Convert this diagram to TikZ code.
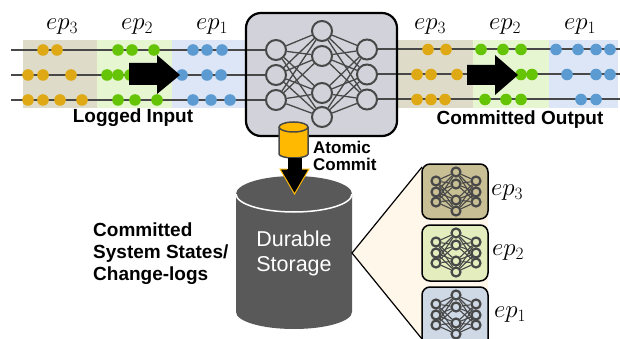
\documentclass[tikz,border=0pt]{standalone}
\usepackage{fontspec}
\usepackage{amsmath}
\setsansfont{Liberation Sans}
\definecolor{bandthree}{HTML}{DEDBC8}
\definecolor{bandtwo}{HTML}{E6F6D0}
\definecolor{bandone}{HTML}{DCE6F6}
\definecolor{dotthree}{HTML}{DFA916}
\definecolor{dottwo}{HTML}{66C406}
\definecolor{dotone}{HTML}{5B9BD1}
\definecolor{wire}{HTML}{484848}
\definecolor{brainbox}{HTML}{D2D3DA}
\definecolor{commitgold}{HTML}{FFB900}
\definecolor{diskgray}{HTML}{595959}
\definecolor{fanfill}{HTML}{FFF7EA}
\definecolor{ckptthree}{HTML}{C8BF94}
\definecolor{ckpttwo}{HTML}{E3EDBE}
\definecolor{ckptone}{HTML}{CFD8E5}
\tikzset{
 neuron/.style={circle, draw=wire, line width=2pt, fill=brainbox, minimum size=20pt, inner sep=0},
 synapse/.style={draw=wire, line width=1.3pt},
 wireline/.style={draw=wire, line width=2pt},
 miniron/.style={circle, draw=wire, line width=2.2pt, minimum size=9pt, inner sep=0},
 minilink/.style={draw=wire, line width=1.1pt},
 ckptbox/.style={draw=black, line width=1.5pt, rounded corners=8pt},
 eplabel/.style={font=\fontsize{23}{24}\selectfont, inner sep=0},
 boldlabel/.style={font=\sffamily\bfseries\fontsize{19}{22}\selectfont, inner sep=0},
}
\newcommand{\dotrow}[3]{\foreach \x in {#3} \fill[#1] (\x,#2) circle (5.8);}
\newcommand{\miniat}[3]{
 \foreach \n/\y in {1/-11,2/0,3/10} {
  \node[miniron, fill=#3] (#3l\n) at (#1-20,#2+\y) {};
  \node[miniron, fill=#3] (#3r\n) at (#1+20,#2+\y) {};
 }
 \foreach \n/\y in {1/-20,2/-8,3/8,4/19}
  \node[miniron, fill=#3] (#3c\n) at (#1,#2+\y) {};
 \foreach \a in {1,2,3} \foreach \b in {1,2,3,4} {
  \draw[minilink] (#3l\a) -- (#3c\b);
  \draw[minilink] (#3r\a) -- (#3c\b);
 }
}
\begin{document}
\begin{tikzpicture}[x=1pt, y=-1pt]
\useasboundingbox (0,0) rectangle (620,339);
\foreach \xa/\xb/\c in {23/97/bandthree,97/172/bandtwo,172/245/bandone,398/473/bandthree,473/549/bandtwo,549/618/bandone}
 \fill[\c] (\xa,40) rectangle (\xb,108);
\foreach \y in {50,75,100} {
 \draw[wireline] (11,\y)--(247,\y);
 \draw[wireline] (397,\y-.5)--(620,\y-.5);
}
\dotrow{dotthree}{50}{43,57}
\dotrow{dottwo}{50}{118,132,154}
\dotrow{dotone}{50}{193,207,222}
\dotrow{dotthree}{75}{28,43,71}
\dotrow{dottwo}{75}{107,118,130}
\dotrow{dotone}{75}{182,207,221}
\dotrow{dotthree}{100}{28,43,60,82}
\dotrow{dottwo}{100}{118,135,157}
\dotrow{dotone}{100}{193,211,230}
\dotrow{dotthree}{49.5}{428,446}
\dotrow{dottwo}{49.5}{481,503,521}
\dotrow{dotone}{49.5}{556,578,596,610}
\dotrow{dotthree}{74.5}{417,431,457}
\dotrow{dottwo}{74.5}{521,532}
\dotrow{dotone}{74.5}{567,596,610}
\dotrow{dotthree}{99.5}{417,431,445}
\dotrow{dottwo}{99.5}{485,506,521}
\dotrow{dotone}{99.5}{581,596}
\fill[black] (129,63)--(157,63)--(157,55)--(180,75)--(157,94)--(157,85)--(129,85)--cycle;
\fill[black] (467,65)--(495,65)--(495,55)--(518,75)--(495,95)--(495,85)--(467,85)--cycle;
\foreach \x/\t/\n in {62/3/a,137/2/b,212/1/c,430/3/d,505/2/e,580/1/f}
 \node[eplabel] (ep\n) at (\x,27) {$ep_{\t}$};
\node[boldlabel] (logged) at (133,118) {Logged Input};
\node[boldlabel] (committed) at (520,120) {Committed Output};

\draw[black, fill=brainbox, line width=2.2pt, rounded corners=15pt] (246,13) rectangle (397,136);
\foreach \n/\y in {1/50,2/75,3/100} {
 \node[neuron] (l\n) at (276,\y) {};
 \node[neuron] (r\n) at (367,\y-.5) {};
 \draw[wireline] (247,\y)--(l\n);
 \draw[wireline] (r\n)--(396,\y-.5);
}
\foreach \n/\y in {1/31,2/56,3/93,4/117}
 \node[neuron] (c\n) at (322,\y) {};
\foreach \a in {1,2,3} \foreach \b in {1,2,3,4} {
 \draw[synapse] (l\a) -- (c\b);
 \draw[synapse] (r\a) -- (c\b);
}

\fill[diskgray] (236,194) arc[x radius=58, y radius=18, start angle=180, end angle=360] -- (352,312) arc[x radius=58, y radius=17, start angle=0, end angle=180] -- cycle;
\draw[white, line width=1.5pt] (236,194) arc[x radius=58, y radius=18, start angle=180, end angle=0];
\node[font=\sffamily\fontsize{21.5}{25}\selectfont, text=white, align=center, inner sep=0] (durable) at (294,253) {Durable\\Storage};

\draw[wire, fill=commitgold, line width=1.5pt] (279,127) -- (279,154) arc[x radius=14.5, y radius=4, start angle=180, end angle=0] -- (308,127) arc[x radius=14.5, y radius=5, start angle=0, end angle=-180] -- cycle;
\draw[wire, line width=1.5pt] (279,127) arc[x radius=14.5, y radius=5, start angle=180, end angle=0];
\draw[commitgold, fill=black, line width=1pt] (287,169)--(280,169)--(294.5,194)--(309,169)--(302,169);
\fill[black] (287.5,158) rectangle (301.5,172);
\node[font=\sffamily\bfseries\fontsize{17}{17}\selectfont, align=left, inner sep=0, anchor=west] (atomic) at (313,156) {Atomic\\Commit};
\node[boldlabel, align=left, anchor=west] (states) at (93,254) {Committed\\System States/\\Change-logs};

\fill[fanfill] (352,253)--(422,167)--(488,167)--(488,339)--(422,339)--cycle;
\draw[black, line width=1.2pt] (422,167)--(352,253)--(422,339);
\draw[ckptbox, fill=ckptthree] (422,164) rectangle (488,219);
\draw[ckptbox, fill=ckpttwo] (422,225) rectangle (488,281);
\draw[ckptbox, fill=ckptone] (422,287) rectangle (488,348);
\miniat{456}{192}{ckptthree}
\miniat{456}{253}{ckpttwo}
\miniat{456}{315}{ckptone}
\node[eplabel] (ckptep3) at (507,193) {$ep_{3}$};
\node[eplabel] (ckptep2) at (508,253) {$ep_{2}$};
\node[eplabel] (ckptep1) at (510,315) {$ep_{1}$};
\end{tikzpicture}
\end{document}
